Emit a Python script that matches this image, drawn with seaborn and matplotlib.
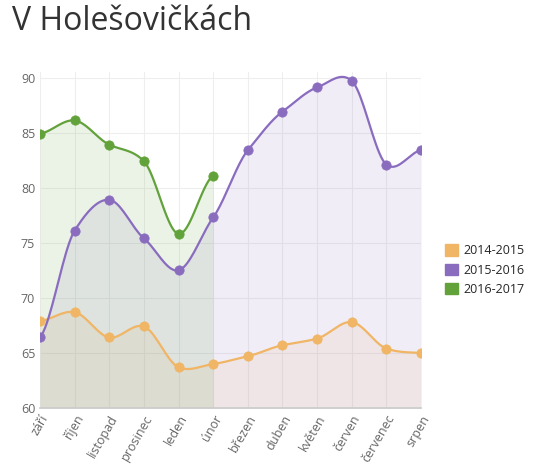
import numpy as np
import matplotlib
matplotlib.use("Agg")
import matplotlib.pyplot as plt
import seaborn as sns
from matplotlib.patches import Patch

months = ["září","říjen","listopad","prosinec","leden","únor","březen","duben","květen","červen","červenec","srpen"]
s1415 = [67.9, 68.7, 66.4, 67.4, 63.7, 64.0, 64.7, 65.7, 66.3, 67.8, 65.4, 65.0]
s1516 = [66.4, 76.1, 78.9, 75.4, 72.5, 77.3, 83.4, 86.9, 89.1, 89.7, 82.1, 83.4]
s1617 = [84.9, 86.1, 83.9, 82.4, 75.8, 81.1]
names = ["2014-2015", "2015-2016", "2016-2017"]
colors = ["#f0b565", "#8a6cbf", "#62a23a"]

sns.set_theme(style="white")
plt.rcParams['font.family'] = ['Open Sans', 'DejaVu Sans']

def smooth(y, n=20):
    y = np.asarray(y, float); x = np.arange(len(y), dtype=float)
    xs, ys = [], []
    for i in range(len(y) - 1):
        p0 = y[max(i-1, 0)]; p1 = y[i]; p2 = y[i+1]; p3 = y[min(i+2, len(y)-1)]
        t = np.linspace(0, 1, n, endpoint=False)
        m1 = (p2 - p0) / 2 * 0.8; m2 = (p3 - p1) / 2 * 0.8
        h00 = 2*t**3 - 3*t**2 + 1; h10 = t**3 - 2*t**2 + t
        h01 = -2*t**3 + 3*t**2; h11 = t**3 - t**2
        ys.append(h00*p1 + h10*m1 + h01*p2 + h11*m2); xs.append(x[i] + t)
    xs.append([x[-1]]); ys.append([y[-1]])
    return np.concatenate(xs), np.concatenate(ys)

fig = plt.figure(figsize=(5.46, 4.75), dpi=100)
ax = fig.add_axes([40/546, 1-408/475, 381/546, 336/475])
for vals, c, nm in zip([s1415, s1516, s1617], colors, names):
    xs, ys = smooth(vals)
    ax.fill_between(xs, 60, ys, color=c, alpha=0.12, lw=0)
    sns.lineplot(x=xs, y=ys, ax=ax, color=c, lw=1.6, sort=False)
    sns.scatterplot(x=np.arange(len(vals)), y=vals, ax=ax, color=c, s=45, edgecolor=c, zorder=5)

ax.set_xlim(0, 11); ax.set_ylim(60, 90.5)
ax.set_yticks(range(60, 91, 5))
ax.set_xticks(range(12)); ax.set_xticklabels(months, rotation=60, ha="right", rotation_mode="anchor")
ax.tick_params(labelsize=9, colors="#666666", length=0)
ax.grid(True, color="#eeeeee", lw=0.8)
for s in ax.spines.values(): s.set_visible(False)
ax.spines['bottom'].set_visible(True); ax.spines['bottom'].set_color("#cccccc")

handles = [Patch(color=c, label=n) for c, n in zip(colors, names)]
fig.legend(handles=handles, loc="center left", bbox_to_anchor=(445/546, 1-270/475),
           frameon=False, fontsize=9, handlelength=1, handleheight=1, handletextpad=0.5,
           borderaxespad=0, borderpad=0)
fig.text(12/546, 1-22/475, "V Holešovičkách", fontsize=23, color="#333333", va="center")
fig.savefig("out.png", dpi=100)
